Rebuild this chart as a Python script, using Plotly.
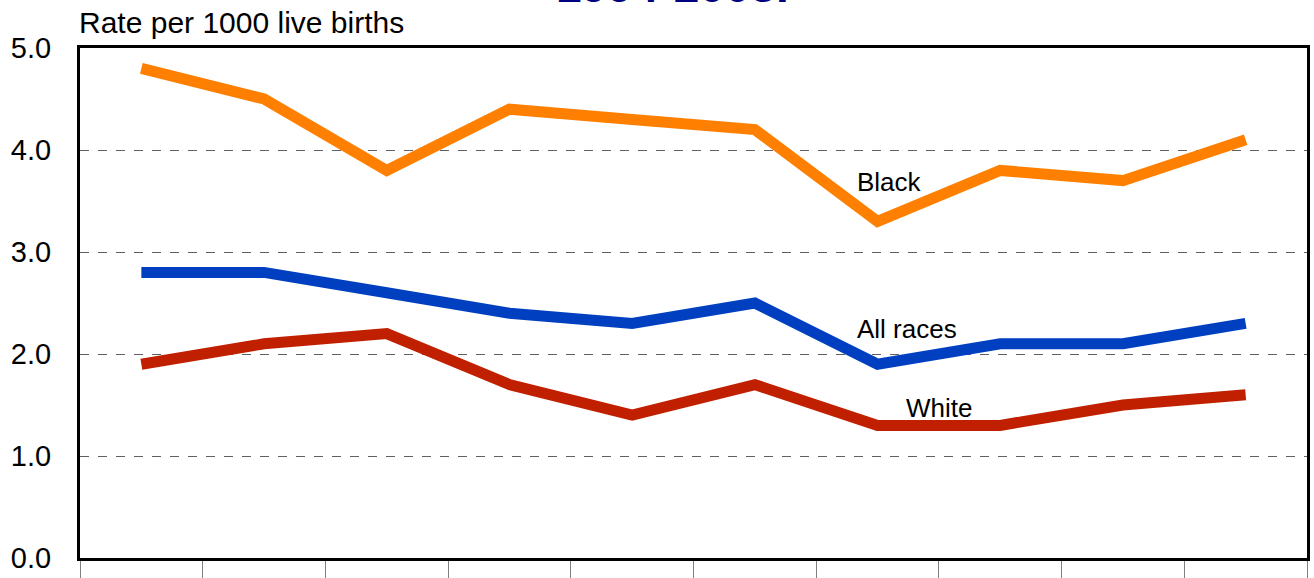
import plotly.graph_objects as go

years = ["1994", "1995", "1996", "1997", "1998", "1999", "2000", "2001", "2002", "2003"]
black = [4.8, 4.5, 3.8, 4.4, 4.3, 4.2, 3.3, 3.8, 3.7, 4.1]
all_races = [2.8, 2.8, 2.6, 2.4, 2.3, 2.5, 1.9, 2.1, 2.1, 2.3]
white = [1.9, 2.1, 2.2, 1.7, 1.4, 1.7, 1.3, 1.3, 1.5, 1.6]

series = [
    ("Black", black, "#FF8000", 6.1, 3.69),
    ("All races", all_races, "#0040C0", 6.24, 2.25),
    ("White", white, "#C02000", 6.5, 1.47),
]

FONT = "Liberation Sans, Arial, sans-serif"

fig = go.Figure()
for name, vals, color, lx, ly in series:
    fig.add_trace(go.Scatter(
        x=years, y=vals, mode="lines", name=name,
        line=dict(color=color, width=11),
    ))
    fig.add_annotation(
        x=lx, y=ly, text=name, showarrow=False,
        font=dict(family=FONT, size=26, color="black"),
    )

# title, mostly cut off above the page
fig.add_annotation(
    x=0.483, y=1, xref="paper", yref="paper", yanchor="bottom",
    yshift=34, text="<b>1994-2003.</b>", showarrow=False,
    font=dict(family=FONT, size=46, color="#000080"),
)
fig.add_annotation(
    x=0, y=1, xref="paper", yref="paper", xanchor="left", yanchor="bottom",
    xshift=-3, yshift=7, text="Rate per 1000 live births", showarrow=False,
    font=dict(family=FONT, size=30, color="black"),
)

fig.update_layout(
    width=1314, height=578,
    margin=dict(l=80, r=7, t=48, b=20),
    paper_bgcolor="white", plot_bgcolor="white",
    showlegend=False,
    font=dict(family=FONT, color="black"),
)
fig.update_xaxes(
    type="category", range=[-0.5, 9.5], automargin=False,
    tickson="boundaries", ticks="outside", ticklen=22, tickcolor="#808080",
    tickwidth=1, showticklabels=False, showgrid=False,
    showline=True, linecolor="black", linewidth=3, mirror=True,
)
fig.update_yaxes(
    range=[0, 5], dtick=1, tickformat=".1f", automargin=False,
    tickfont=dict(size=29), ticklabelstandoff=20,
    showgrid=True, gridcolor="#606060", gridwidth=1, griddash="dash",
    zeroline=False,
    showline=True, linecolor="black", linewidth=3, mirror=True,
)

fig.write_html(
    "out.html",
    config={"displayModeBar": False},
    post_script="document.body.style.margin='0';",
)
